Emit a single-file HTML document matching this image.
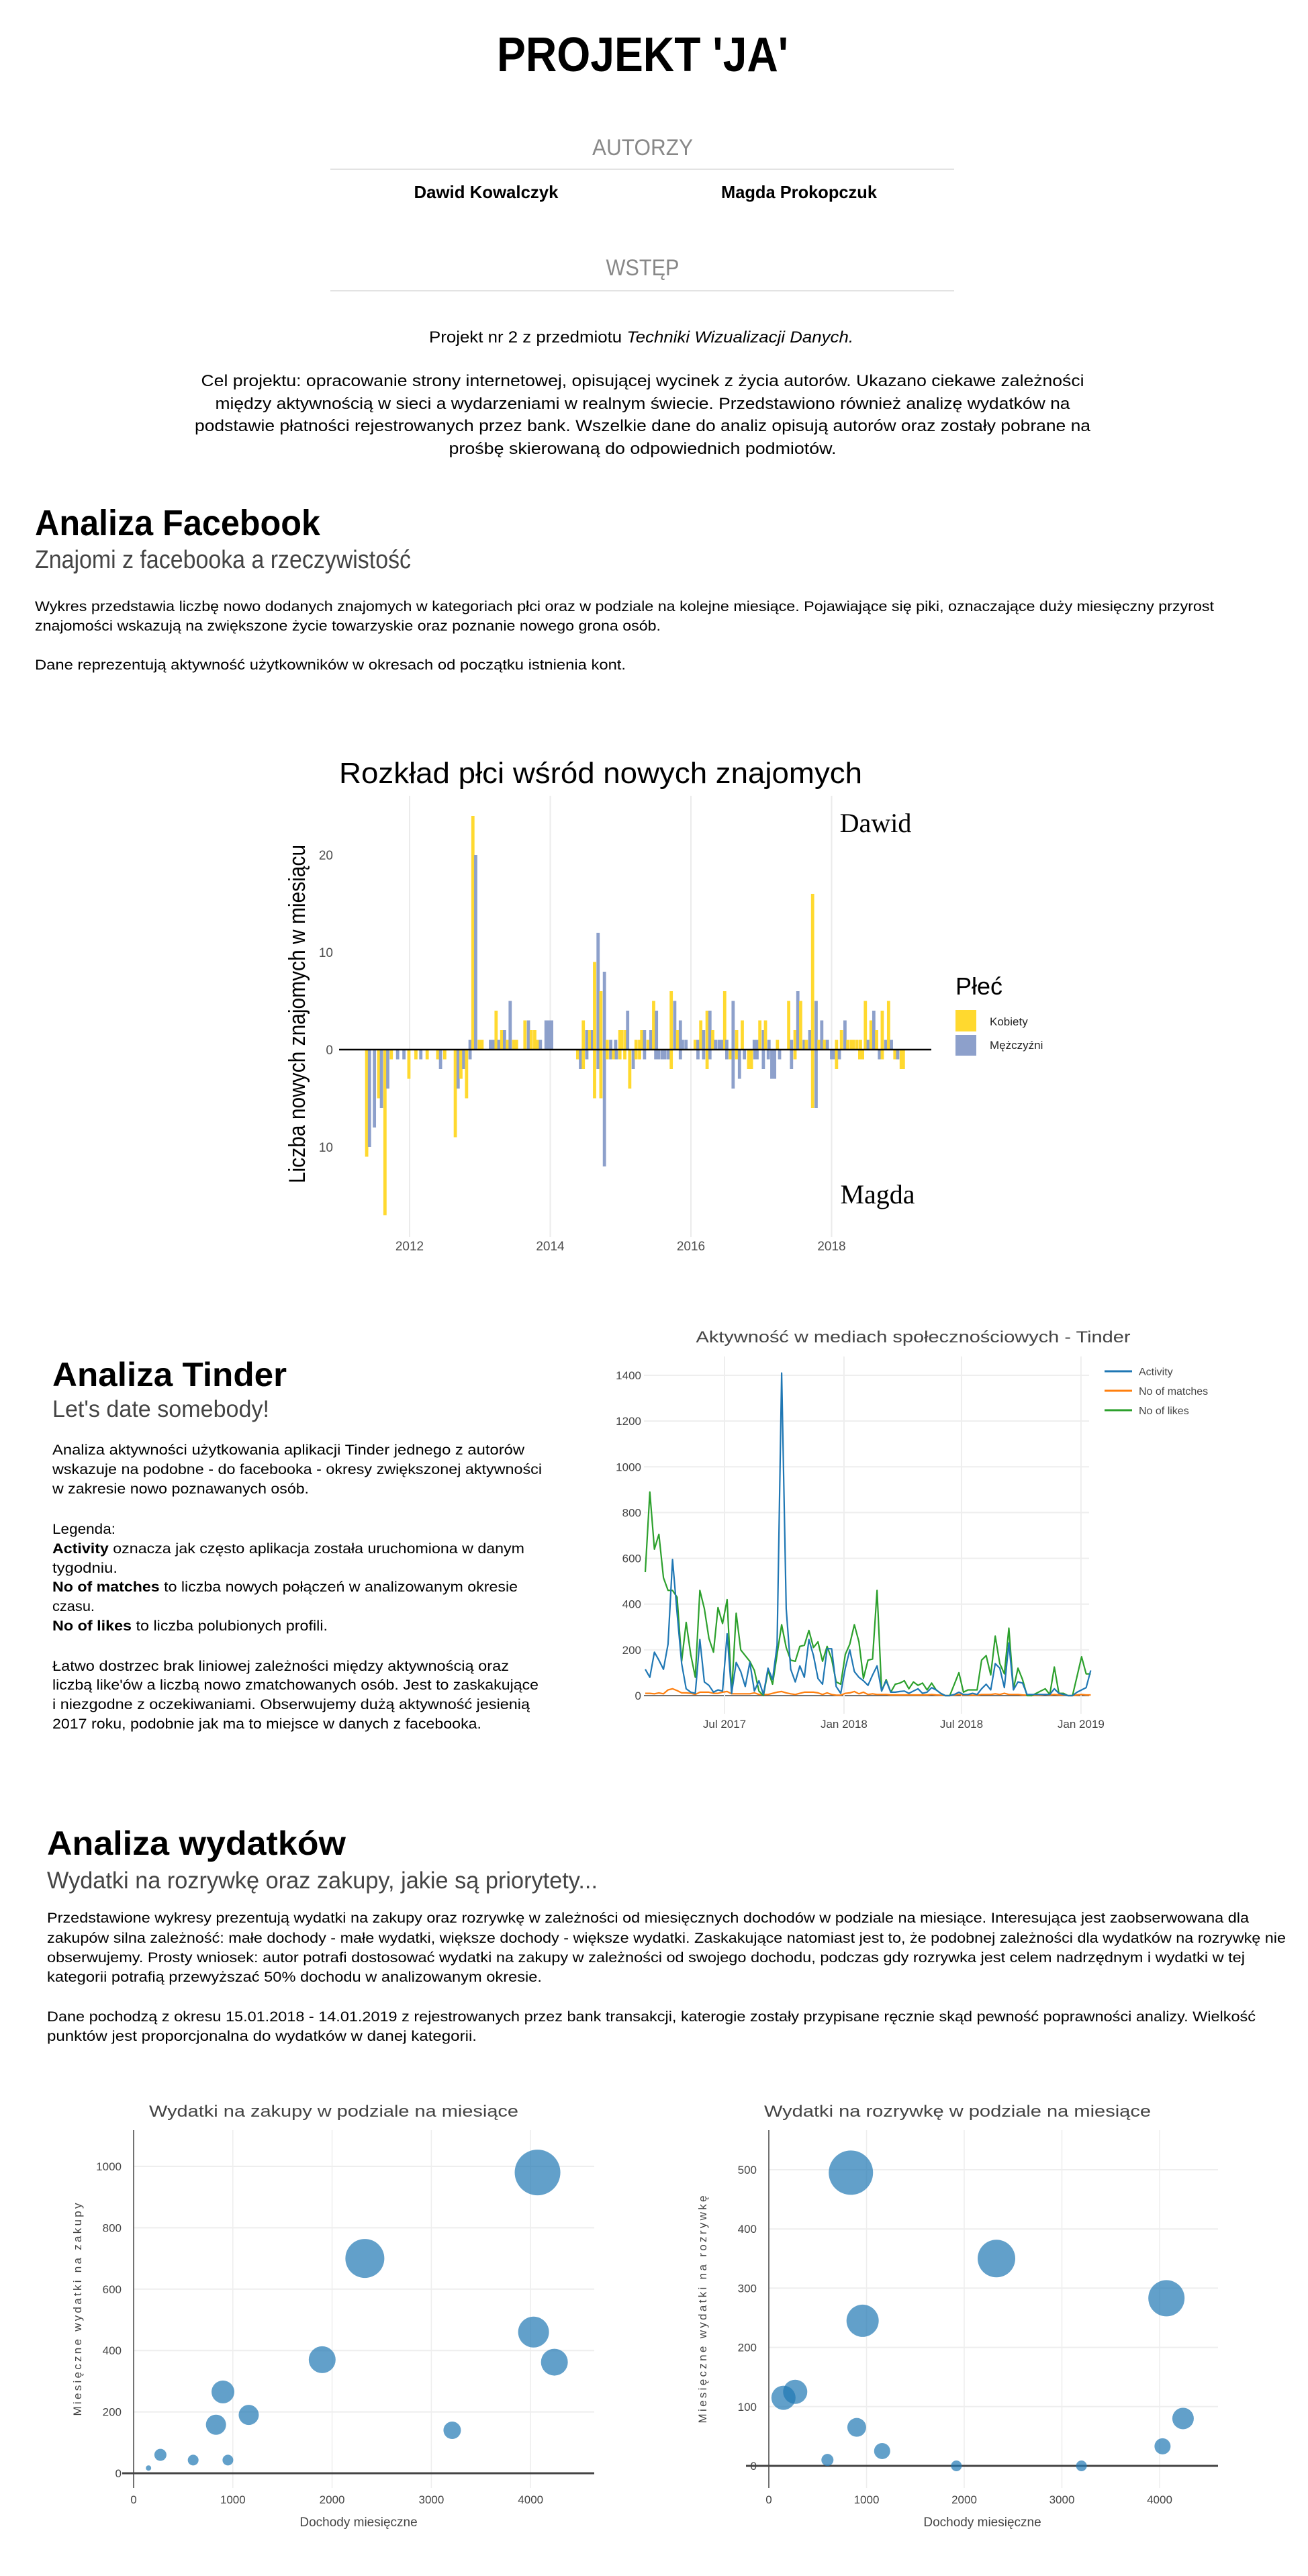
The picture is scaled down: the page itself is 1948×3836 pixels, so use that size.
<!DOCTYPE html>
<html><head><meta charset="utf-8"><title>Projekt JA</title>
<style>
html,body{margin:0;padding:0;background:#fff;}
svg{display:block;font-family:"Liberation Sans",sans-serif;}
</style></head>
<body>
<svg id="page" width="1948" height="3836" viewBox="0 0 1948 3836" xmlns="http://www.w3.org/2000/svg">
<!-- Header -->
<text x="957" y="106" text-anchor="middle" font-size="72" font-weight="bold" textLength="434" lengthAdjust="spacingAndGlyphs">PROJEKT 'JA'</text>
<text x="957" y="231" text-anchor="middle" font-size="34" fill="#888" textLength="150" lengthAdjust="spacingAndGlyphs">AUTORZY</text>
<line x1="492" y1="252" x2="1421" y2="252" stroke="#e3e3e3" stroke-width="2"/>
<text x="724" y="295" text-anchor="middle" font-size="26" font-weight="bold" textLength="215" lengthAdjust="spacingAndGlyphs">Dawid Kowalczyk</text>
<text x="1190" y="295" text-anchor="middle" font-size="26" font-weight="bold" textLength="232" lengthAdjust="spacingAndGlyphs">Magda Prokopczuk</text>
<text x="957" y="410" text-anchor="middle" font-size="34" fill="#888" textLength="109" lengthAdjust="spacingAndGlyphs">WSTĘP</text>
<line x1="492" y1="433" x2="1421" y2="433" stroke="#e3e3e3" stroke-width="2"/>
<text x="955" y="510" text-anchor="middle" font-size="24" textLength="632" lengthAdjust="spacingAndGlyphs">Projekt nr 2 z przedmiotu <tspan font-style="italic">Techniki Wizualizacji Danych.</tspan></text>
<g font-size="24" text-anchor="middle">
<text x="957" y="575" textLength="1315" lengthAdjust="spacingAndGlyphs">Cel projektu: opracowanie strony internetowej, opisującej wycinek z życia autorów. Ukazano ciekawe zależności</text>
<text x="957" y="609" textLength="1273" lengthAdjust="spacingAndGlyphs">między aktywnością w sieci a wydarzeniami w realnym świecie. Przedstawiono również analizę wydatków na</text>
<text x="957" y="642" textLength="1334" lengthAdjust="spacingAndGlyphs">podstawie płatności rejestrowanych przez bank. Wszelkie dane do analiz opisują autorów oraz zostały pobrane na</text>
<text x="957" y="676" textLength="577" lengthAdjust="spacingAndGlyphs">prośbę skierowaną do odpowiednich podmiotów.</text>
</g>

<!-- Facebook section -->
<text x="52" y="797" font-size="54" font-weight="bold" textLength="425" lengthAdjust="spacingAndGlyphs">Analiza Facebook</text>
<text x="52" y="846" font-size="38" fill="#444" textLength="560" lengthAdjust="spacingAndGlyphs">Znajomi z facebooka a rzeczywistość</text>
<g font-size="21">
<text x="52" y="910" textLength="1756" lengthAdjust="spacingAndGlyphs">Wykres przedstawia liczbę nowo dodanych znajomych w kategoriach płci oraz w podziale na kolejne miesiące. Pojawiające się piki, oznaczające duży miesięczny przyrost</text>
<text x="52" y="939" textLength="932" lengthAdjust="spacingAndGlyphs">znajomości wskazują na zwiększone życie towarzyskie oraz poznanie nowego grona osób.</text>
<text x="52" y="997" textLength="880" lengthAdjust="spacingAndGlyphs">Dane reprezentują aktywność użytkowników w okresach od początku istnienia kont.</text>
</g>

<g id="fbChart">
<text x="505" y="1166" font-size="44" textLength="779" lengthAdjust="spacingAndGlyphs">Rozkład płci wśród nowych znajomych</text>
<g id="fbGrid"></g>
<g id="fbBars"></g>
<line x1="505" y1="1563" x2="1387" y2="1563" stroke="#000" stroke-width="2.5"/>
<g id="fbTicks" font-size="19" fill="#4d4d4d"></g>
<text transform="translate(454,1510) rotate(-90)" text-anchor="middle" font-size="34" textLength="504" lengthAdjust="spacingAndGlyphs">Liczba nowych znajomych w miesiącu</text>
<text x="1304" y="1239" text-anchor="middle" font-family="'Liberation Serif',serif" font-size="40">Dawid</text>
<text x="1307" y="1792" text-anchor="middle" font-family="'Liberation Serif',serif" font-size="40">Magda</text>
<text x="1423" y="1481" font-size="36">Płeć</text>
<rect x="1423" y="1504" width="31" height="32" fill="#FFD92F"/>
<rect x="1423" y="1541" width="31" height="31" fill="#8DA0CB"/>
<text x="1474" y="1527" font-size="17" fill="#222">Kobiety</text>
<text x="1474" y="1562" font-size="17" fill="#222">Mężczyźni</text>
</g>

<!-- Tinder section -->
<text x="78" y="2064" font-size="50" font-weight="bold" textLength="349" lengthAdjust="spacingAndGlyphs">Analiza Tinder</text>
<text x="78" y="2110" font-size="35" fill="#444" textLength="323" lengthAdjust="spacingAndGlyphs">Let's date somebody!</text>
<g font-size="21">
<text x="78" y="2166" textLength="703" lengthAdjust="spacingAndGlyphs">Analiza aktywności użytkowania aplikacji Tinder jednego z autorów</text>
<text x="78" y="2195" textLength="729" lengthAdjust="spacingAndGlyphs">wskazuje na podobne - do facebooka - okresy zwiększonej aktywności</text>
<text x="78" y="2224" textLength="382" lengthAdjust="spacingAndGlyphs">w zakresie nowo poznawanych osób.</text>
<text x="78" y="2284" textLength="94" lengthAdjust="spacingAndGlyphs">Legenda:</text>
<text x="78" y="2313" textLength="703" lengthAdjust="spacingAndGlyphs"><tspan font-weight="bold">Activity</tspan> oznacza jak często aplikacja została uruchomiona w danym</text>
<text x="78" y="2342" textLength="97" lengthAdjust="spacingAndGlyphs">tygodniu.</text>
<text x="78" y="2370" textLength="693" lengthAdjust="spacingAndGlyphs"><tspan font-weight="bold">No of matches</tspan> to liczba nowych połączeń w analizowanym okresie</text>
<text x="78" y="2399" textLength="63" lengthAdjust="spacingAndGlyphs">czasu.</text>
<text x="78" y="2428" textLength="410" lengthAdjust="spacingAndGlyphs"><tspan font-weight="bold">No of likes</tspan> to liczba polubionych profili.</text>
<text x="78" y="2488" textLength="680" lengthAdjust="spacingAndGlyphs">Łatwo dostrzec brak liniowej zależności między aktywnością oraz</text>
<text x="78" y="2516" textLength="724" lengthAdjust="spacingAndGlyphs">liczbą like'ów a liczbą nowo zmatchowanych osób. Jest to zaskakujące</text>
<text x="78" y="2545" textLength="711" lengthAdjust="spacingAndGlyphs">i niezgodne z oczekiwaniami. Obserwujemy dużą aktywność jesienią</text>
<text x="78" y="2574" textLength="639" lengthAdjust="spacingAndGlyphs">2017 roku, podobnie jak ma to miejsce w danych z facebooka.</text>
</g>

<g id="tinderChart">
<text x="1360" y="1999" text-anchor="middle" font-size="24" fill="#444" textLength="647" lengthAdjust="spacingAndGlyphs">Aktywność w mediach społecznościowych - Tinder</text>
<g id="tGrid"></g>
<g id="tTicks" font-size="17" fill="#444"></g>
<g id="tLines"></g>
<g font-size="16" fill="#444">
<line x1="1645" y1="2042" x2="1686" y2="2042" stroke="#1f77b4" stroke-width="3"/>
<text x="1696" y="2048">Activity</text>
<line x1="1645" y1="2071" x2="1686" y2="2071" stroke="#ff7f0e" stroke-width="3"/>
<text x="1696" y="2077">No of matches</text>
<line x1="1645" y1="2100" x2="1686" y2="2100" stroke="#2ca02c" stroke-width="3"/>
<text x="1696" y="2106">No of likes</text>
</g>
</g>

<!-- Expenses section -->
<text x="70" y="2762" font-size="50" font-weight="bold" textLength="445" lengthAdjust="spacingAndGlyphs">Analiza wydatków</text>
<text x="70" y="2812" font-size="35" fill="#444" textLength="820" lengthAdjust="spacingAndGlyphs">Wydatki na rozrywkę oraz zakupy, jakie są priorytety...</text>
<g font-size="21">
<text x="70" y="2863" textLength="1790" lengthAdjust="spacingAndGlyphs">Przedstawione wykresy prezentują wydatki na zakupy oraz rozrywkę w zależności od miesięcznych dochodów w podziale na miesiące. Interesująca jest zaobserwowana dla</text>
<text x="70" y="2893" textLength="1845" lengthAdjust="spacingAndGlyphs">zakupów silna zależność: małe dochody - małe wydatki, większe dochody - większe wydatki. Zaskakujące natomiast jest to, że podobnej zależności dla wydatków na rozrywkę nie</text>
<text x="70" y="2922" textLength="1784" lengthAdjust="spacingAndGlyphs">obserwujemy. Prosty wniosek: autor potrafi dostosować wydatki na zakupy w zależności od swojego dochodu, podczas gdy rozrywka jest celem nadrzędnym i wydatki w tej</text>
<text x="70" y="2951" textLength="737" lengthAdjust="spacingAndGlyphs">kategorii potrafią przewyższać 50% dochodu w analizowanym okresie.</text>
<text x="70" y="3010" textLength="1800" lengthAdjust="spacingAndGlyphs">Dane pochodzą z okresu 15.01.2018 - 14.01.2019 z rejestrowanych przez bank transakcji, katerogie zostały przypisane ręcznie skąd pewność poprawności analizy. Wielkość</text>
<text x="70" y="3039" textLength="640" lengthAdjust="spacingAndGlyphs">punktów jest proporcjonalna do wydatków w danej kategorii.</text>
</g>

<g id="shopChart">
<text x="497" y="3152" text-anchor="middle" font-size="24" fill="#444" textLength="550" lengthAdjust="spacingAndGlyphs">Wydatki na zakupy w podziale na miesiące</text>
<text transform="translate(121,3439) rotate(-90)" text-anchor="middle" font-size="17" fill="#444" textLength="317" lengthAdjust="spacing">Miesięczne wydatki na zakupy</text>
<text x="534" y="3762" text-anchor="middle" font-size="19" fill="#444">Dochody miesięczne</text>
</g>
<g id="funChart">
<text x="1426" y="3152" text-anchor="middle" font-size="24" fill="#444" textLength="576" lengthAdjust="spacingAndGlyphs">Wydatki na rozrywkę w podziale na miesiące</text>
<text transform="translate(1052,3439) rotate(-90)" text-anchor="middle" font-size="17" fill="#444" textLength="339" lengthAdjust="spacing">Miesięczne wydatki na rozrywkę</text>
<text x="1463" y="3762" text-anchor="middle" font-size="19" fill="#444">Dochody miesięczne</text>
</g>
</svg>

<script>
// ===== Facebook chart data =====
const fbYear = [2011.39,2011.43,2011.50,2011.56,2011.60,2011.65,2011.69,2011.74,2011.83,2011.92,2011.99,2012.09,2012.16,2012.25,2012.40,2012.44,2012.50,2012.65,2012.69,2012.73,2012.77,2012.81,2012.86,
2014.39,2014.43,2014.47,2014.52,2014.63,2014.68,2014.72,2014.77,2014.81,2014.86,2014.90,2014.94,2014.99,2015.06,2015.13,2015.18,2015.22,2015.27,2015.34,2015.50,2015.54,2015.59,2015.63,2015.68,2015.72,2015.85,
2016.10,2016.18,2016.23,2016.27,2016.51,2016.56,2016.60,2016.65,2016.69,2016.76,2016.82,2016.86,2016.91,2016.94,2017.03,2017.10,2017.15,2017.19,2017.26,2017.43,2017.48,2017.73,2017.78,2018.00,2018.03,2018.07,2018.11,2018.40,2018.44,2018.68,2018.72,2018.90,2018.94,2018.99,2019.02,
2012.86,2012.90,2012.94,2012.99,2013.03,2013.15,2013.19,2013.23,2013.27,2013.31,2013.35,2013.39,2013.43,2013.48,2013.52,2013.64,2013.69,2013.73,2013.78,2013.82,2013.86,2013.94,2013.98,2014.02,
2014.47,2014.52,2014.56,2014.60,2014.63,2014.68,2014.72,2014.77,2014.81,2014.86,2014.93,2014.99,2015.02,2015.07,2015.10,2015.22,2015.27,2015.30,2015.34,2015.39,2015.43,2015.47,2015.51,2015.72,2015.77,2015.81,2015.85,2015.88,2015.93,
2016.06,2016.10,2016.14,2016.18,2016.23,2016.27,2016.31,2016.35,2016.40,2016.44,2016.48,2016.51,2016.60,2016.65,2016.73,2016.90,2016.94,2016.98,2017.03,2017.06,2017.11,2017.23,2017.39,2017.43,2017.48,2017.52,2017.56,2017.61,2017.64,2017.69,2017.73,2017.78,2017.82,2017.86,2017.90,2017.94,
2018.07,2018.14,2018.19,2018.23,2018.28,2018.31,2018.36,2018.41,2018.48,2018.52,2018.56,2018.60,2018.64,2018.72,2018.77,2018.81,2018.85];
const fbValue = [-11,-10,-8,-5,-6,-17,-4,-1,-1,-1,-3,-1,-1,-1,-1,-2,-1,-9,-4,-3,-2,-5,-1,
-1,-2,-2,-1,-5,-2,-5,-12,-1,-1,-1,-1,-1,-1,-4,-2,-1,-1,-1,-1,-1,-1,-1,-1,-2,-1,
-1,-1,-2,-1,-1,-1,-4,-1,-3,-1,-2,-2,-1,-1,-2,-1,-3,-3,-1,-2,-1,-6,-6,-1,-1,-2,-1,-1,-1,-1,-1,-1,-1,-2,-2,
1,24,20,1,1,1,1,4,1,2,2,1,5,1,1,3,3,2,2,1,1,3,3,3,
3,2,2,2,9,12,6,8,1,1,1,2,2,2,4,1,1,2,2,1,2,5,4,6,5,2,3,1,1,
1,1,3,2,4,4,2,1,1,1,6,1,5,2,3,1,1,3,2,3,1,1,5,1,2,6,5,1,1,2,16,5,1,3,1,1,
1,2,3,1,1,1,1,1,5,1,3,4,2,4,1,5,1];
const fbGender = "KMMKMKMKMMKKMKKMKKMKMKM"+"KMKMKMKMKMKMKKKMKKMMMMMMKM"+"MMKMMKMKMMKKMMMMMMMMKKMMMKMKKMKKMKK"+"MKMKKMMKMKMKMKKKMKKKMMMM"+"KMKMKMKMKMMKKKMKKKMKMKMKMKMMM"+"KMKMKMKMMMKMMKKMMKMKMKKMKMKMKMKMKMKM"+"KKMKKKKKKMKMKKMKM";
const fbYearTicks = [2012,2014,2016,2018];
const fbValueTicks = [20,10,0,-10];

const NS="http://www.w3.org/2000/svg";
function mk(tag,attrs,parent){const e=document.createElementNS(NS,tag);for(const k in attrs)e.setAttribute(k,attrs[k]);parent.appendChild(e);return e;}
const fx = y => 610 + (y-2012)*104.75;
const fy = v => 1563 - v*14.5;
const fbGrid=document.getElementById('fbGrid'), fbBars=document.getElementById('fbBars'), fbTicks=document.getElementById('fbTicks');
fbYearTicks.forEach(t=>{
  const l=mk('line',{x1:fx(t),x2:fx(t),y1:1185,y2:1842,stroke:'#ebebeb','stroke-width':2},fbGrid);
  
  
  const tx=mk('text',{x:fx(t),y:1862,'text-anchor':'middle'},fbTicks);tx.textContent=t;
  
  
});
fbValueTicks.forEach(v=>{
  const tx=mk('text',{x:496,y:fy(v)+7,'text-anchor':'end'},fbTicks);tx.textContent=Math.abs(v);
  
  
});
const nFb=Math.min(fbYear.length,fbValue.length,fbGender.length);
for(let i=0;i<nFb;i++){
  const v=fbValue[i], x=fx(fbYear[i]);
  const r=mk('rect',{x:x-2.4,width:4.8,y:Math.min(fy(v),fy(0)),height:Math.abs(fy(v)-fy(0)),fill:fbGender[i]==='K'?'#FFD92F':'#8DA0CB'},fbBars);
  
  
}

// ===== Tinder chart data =====
const tStartDate = "2017-03-01";
const tActivity = [115,80,190,155,115,225,595,360,140,30,15,10,245,60,45,15,25,20,270,10,145,105,40,145,20,65,5,120,70,220,1410,380,115,60,130,80,245,175,75,50,205,205,40,10,120,200,105,80,65,45,90,130,20,65,15,15,18,20,10,20,30,10,15,35,25,10,0,0,5,15,5,5,10,5,30,50,25,140,120,35,230,25,60,55,5,5,5,5,5,5,30,10,5,0,0,15,25,35,110];
const tMatches = [10,10,8,12,8,25,30,22,12,12,10,5,15,15,15,10,10,15,18,8,8,8,8,8,12,5,5,5,10,15,18,12,8,5,10,15,15,15,12,5,12,5,2,2,10,12,18,8,15,5,8,5,5,5,3,3,3,3,3,3,3,3,3,5,3,2,0,0,3,5,3,3,2,2,5,5,5,8,5,10,5,5,5,3,2,0,2,3,5,3,5,3,3,0,0,3,5,3,3];
const tLikes = [540,890,640,705,515,460,460,430,150,320,180,80,460,380,250,190,385,315,420,10,360,200,175,150,110,20,0,110,50,180,310,210,155,150,215,220,285,210,235,150,215,160,60,50,180,225,310,235,75,155,160,460,20,70,15,50,55,65,30,60,45,55,25,55,25,10,0,0,50,100,15,25,25,25,155,175,90,260,140,95,295,30,120,70,0,0,10,20,30,5,125,10,10,0,0,85,170,95,95];
const tYTicks = [0,200,400,600,800,1000,1200,1400];
const tXTicks = ["2017-07-01","2018-01-01","2018-07-01","2019-01-01"];
const tXLabels = ["Jul 2017","Jan 2018","Jul 2018","Jan 2019"];

const DAY=86400000, ref=Date.parse("2017-07-01");
const tx = ms => 1079 + (ms-ref)/DAY*0.967;
const ty = v => 2525 - v*(477/1400);
const tGrid=document.getElementById('tGrid'), tTicks=document.getElementById('tTicks'), tLines=document.getElementById('tLines');
tYTicks.forEach(v=>{
  const l=mk('line',{x1:959,x2:1622,y1:ty(v),y2:ty(v),stroke:v===0?'#444':'#eee','stroke-width':v===0?1.5:2},tGrid);
  
  
  const t=mk('text',{x:955,y:ty(v)+6,'text-anchor':'end'},tTicks);t.textContent=v;
  
  
});
tXTicks.forEach((d,i)=>{
  const x=tx(Date.parse(d));
  const l=mk('line',{x1:x,x2:x,y1:2020,y2:2552,stroke:'#eee','stroke-width':2},tGrid);
  
  
  const t=mk('text',{x:x,y:2573,'text-anchor':'middle'},tTicks);t.textContent=tXLabels[i];
  
  
});
const t0=Date.parse(tStartDate);
function tPath(arr,color,name){
  const pts=arr.map((v,i)=>tx(t0+i*7*DAY).toFixed(1)+','+ty(v).toFixed(1)).join(' ');
  const p=mk('polyline',{points:pts,fill:'none',stroke:color,'stroke-width':2.2,'stroke-linejoin':'round'},tLines);
  
  
}
tPath(tMatches,'#ff7f0e','line-no-of-matches');
tPath(tLikes,'#2ca02c','line-no-of-likes');
tPath(tActivity,'#1f77b4','line-activity');

// ===== Expenses charts data =====
const shopIncome = [4070,2330,4030,4240,1900,900,1160,830,3210,270,600,950,150];
const shopSpend  = [980,700,460,362,370,265,190,158,140,60,43,43,17];
const shopSize   = [34,29,23,20,20,17,15,15,13,9,8,8,4];
const funIncome  = [840,2330,4070,960,150,270,900,4240,4030,1160,600,1920,3200];
const funSpend   = [495,350,283,245,115,125,65,80,33,25,10,0,0];
const funSize    = [33,28,27,24,18,18,14,16,12,12,9,8,8];
const shopYTicks = [0,200,400,600,800,1000];
const funYTicks  = [0,100,200,300,400,500];
const incomeTicks = [0,1000,2000,3000,4000];

function bubbleChart(gid,prefix,x0,xk,xEnd,y0,yk,yTicks,inc,sp,sz,zeroStart){
  const g=document.getElementById(gid);
  const X=v=>x0+v*xk, Y=v=>y0-v*yk;
  incomeTicks.forEach(t=>{
    if(t>0){const l=mk('line',{x1:X(t),x2:X(t),y1:3172,y2:3705,stroke:'#eee','stroke-width':1.5},g);
    
    }
    const tt=mk('text',{x:X(t),y:3728,'text-anchor':'middle','font-size':17,fill:'#444'},g);tt.textContent=t;
    
    
  });
  yTicks.forEach(t=>{
    if(t>0){const l=mk('line',{x1:x0,x2:xEnd,y1:Y(t),y2:Y(t),stroke:'#eee','stroke-width':2},g);
    
    }
    const tt=mk('text',{x:x0-18,y:Y(t)+6,'text-anchor':'end','font-size':17,fill:'#444'},g);tt.textContent=t;
    
    
  });
  const ya=mk('line',{x1:x0,x2:x0,y1:3172,y2:3705,stroke:'#444','stroke-width':1.5},g);
  
  
  const za=mk('line',{x1:zeroStart,x2:xEnd,y1:Y(0),y2:Y(0),stroke:'#444','stroke-width':3},g);
  
  
  for(let i=0;i<inc.length;i++){
    const c=mk('circle',{cx:X(inc[i]),cy:Y(sp[i]),r:sz[i],fill:'#1f77b4','fill-opacity':0.7},g);
    
    
  }
}
bubbleChart('shopChart','shop',199,0.1478,885,3683,0.457,shopYTicks,shopIncome,shopSpend,shopSize,182);
bubbleChart('funChart','fun',1145,0.1455,1814,3672,0.882,funYTicks,funIncome,funSpend,funSize,1111);
</script>
</body></html>
